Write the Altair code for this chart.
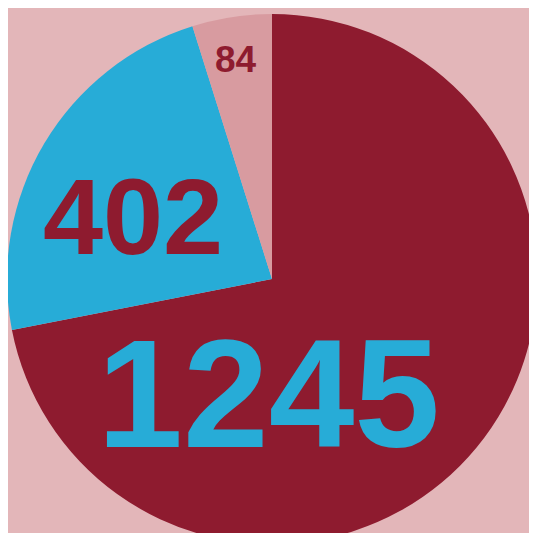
import altair as alt
import pandas as pd

categories = ["Grande", "Moyen", "Petit"]
values = [1245, 402, 84]
order_idx = [0, 1, 2]

slice_colors = ["#8e1b2f", "#27acd7", "#d89ba0"]
background = "#e3b6b9"

df = pd.DataFrame({"cat": categories, "value": values, "idx": order_idx})

cx, cy, R = 264, 271, 265

base = alt.Chart(df)

pie = base.mark_arc(radius=R, stroke=None).encode(
    theta=alt.Theta("value:Q", stack=True),
    color=alt.Color("cat:N", scale=alt.Scale(domain=categories, range=slice_colors), legend=None),
    order=alt.Order("idx:Q"),
    x=alt.value(cx),
    y=alt.value(cy),
)


def label(cat, radius, dx, dy, size, color):
    return (
        base.transform_window(cum="sum(value)", sort=[alt.SortField("idx")], frame=[None, 0])
        .transform_calculate(mid="datum.cum - datum.value / 2")
        .transform_filter(alt.datum.cat == cat)
        .mark_text(
            radius=radius, dx=dx, dy=dy, fontSize=size, font="Liberation Sans",
            fontWeight="bold", align="center", baseline="alphabetic", color=color,
        )
        .encode(
            theta=alt.Theta("mid:Q"),
            text=alt.Text("value:Q"),
            x=alt.value(cx),
            y=alt.value(cy),
        )
    )


t1 = label("Grande", 120, -96, 92, 154, "#27acd7")
t2 = label("Moyen", 150, -10, 52, 108, "#8e1b2f")
t3 = label("Petit", 220, -3, 10, 37, "#8e1b2f")

chart = (
    alt.layer(pie, t1, t2, t3)
    .properties(width=521, height=525, padding=0, autosize="none", background=background)
    .configure_view(stroke=None)
)

chart.save("out.html", embed_options={"renderer": "svg", "actions": False})
